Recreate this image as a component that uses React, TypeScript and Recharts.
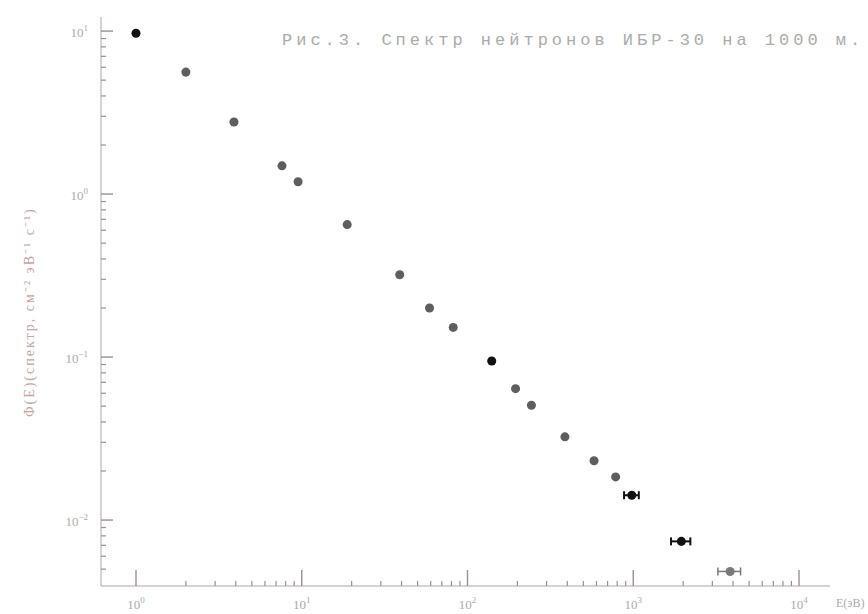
import { ScatterChart, Scatter, XAxis, YAxis, ErrorBar } from "recharts";

const titleText = "Рис.3. Спектр нейтронов ИБР-30 на 1000 м.";
const xAxisTitle = "E(эВ)";
const yAxisTitle = "Φ(E)(спектр, см⁻² эВ⁻¹ с⁻¹)";

// grey points (main measurement)
const greyEnergy = [2, 3.9, 7.6, 9.5, 18.8, 39, 59, 82, 195, 243, 387, 580, 783];
const greyFlux = [5.6, 2.77, 1.49, 1.19, 0.65, 0.32, 0.2, 0.152, 0.064, 0.0506, 0.0324, 0.0231, 0.0184];

// black points
const blackEnergy = [1, 140, 980, 1950];
const blackFlux = [9.7, 0.0946, 0.0142, 0.0074];
const blackErr = [0, 0, 100, 260];

// last faint point
const faintEnergy = [3840];
const faintFlux = [0.00484];
const faintErr = [600];

const xDecades = [1, 10, 100, 1000, 10000];
const yDecades = [0.01, 0.1, 1, 10];
const minorSteps = [2, 3, 4, 5, 6, 7, 8, 9];

const xTicks = [
  ...xDecades,
  ...xDecades.slice(0, 4).flatMap((d) => minorSteps.map((m) => m * d)),
];
const yTicks = [
  ...yDecades,
  ...[0.001, 0.01, 0.1, 1].flatMap((d) => minorSteps.map((m) => m * d)).filter((v) => v > 0.004),
];

const greyData = greyEnergy.map((e, i) => ({ e, f: greyFlux[i] }));
const blackData = blackEnergy.map((e, i) => ({ e, f: blackFlux[i], ex: blackErr[i] }));
const faintData = faintEnergy.map((e, i) => ({ e, f: faintFlux[i], ex: faintErr[i] }));

const axisColor = "#b3a3a3";
const tickColor = "#9e8e8e";
const labelColor = "#ababab";

const isDecade = (v: number) => Math.abs(Math.log10(v) - Math.round(Math.log10(v))) < 1e-6;
const expText = (v: number) => {
  const n = Math.round(Math.log10(v));
  return n < 0 ? "−" + Math.abs(n) : String(n);
};

function XTick(props: any) {
  const { x, y, payload } = props;
  const v = payload.value;
  const major = isDecade(v);
  return (
    <g>
      <line x1={x} x2={x} y1={y} y2={y - (major ? 16 : 5)} stroke={tickColor} strokeWidth={major ? 1.4 : 1.2} />
      {major && (
        <text x={x} y={y + 23} textAnchor="middle" fill={labelColor} fontSize={13} fontFamily="Liberation Serif">
          10
          <tspan dy={-6} fontSize={9}>
            {expText(v)}
          </tspan>
        </text>
      )}
    </g>
  );
}

function YTick(props: any) {
  const { x, y, payload } = props;
  const v = payload.value;
  const major = isDecade(v);
  return (
    <g>
      <line x1={x} x2={x + (major ? 12 : 5)} y1={y} y2={y} stroke={tickColor} strokeWidth={major ? 1.4 : 1.2} />
      {major && (
        <text x={x - 13} y={y + 6} textAnchor="end" fill={labelColor} fontSize={13} fontFamily="Liberation Serif">
          10
          <tspan dy={-6} fontSize={9}>
            {expText(v)}
          </tspan>
        </text>
      )}
    </g>
  );
}

export default function App() {
  return (
    <div style={{ position: "absolute", left: 0, top: 0, width: 868, height: 614, background: "#fff" }}>
      <ScatterChart width={868} height={614} margin={{ top: 17, right: 38, left: 0, bottom: 0 }}>
        <XAxis
          type="number"
          dataKey="e"
          scale="log"
          domain={[0.615, 15380]}
          allowDataOverflow
          ticks={xTicks}
          interval={0}
          tickSize={0}
          tickMargin={0}
          tickLine={false}
          tick={<XTick />}
          axisLine={{ stroke: axisColor }}
          height={28}
        />
        <YAxis
          type="number"
          dataKey="f"
          scale="log"
          domain={[0.00394, 12.2]}
          allowDataOverflow
          ticks={yTicks}
          interval={0}
          tickSize={0}
          tickMargin={0}
          tickLine={false}
          tick={<YTick />}
          axisLine={{ stroke: axisColor }}
          width={101}
        />
        <Scatter data={greyData} fill="#5e5e5e" isAnimationActive={false} />
        <Scatter data={blackData} fill="#111111" isAnimationActive={false}>
          <ErrorBar dataKey="ex" direction="x" width={4} stroke="#111111" strokeWidth={2} />
        </Scatter>
        <Scatter data={faintData} fill="#7a7a7a" isAnimationActive={false}>
          <ErrorBar dataKey="ex" direction="x" width={4} stroke="#7a7a7a" strokeWidth={1.5} />
        </Scatter>
      </ScatterChart>
      <div
        style={{
          position: "absolute",
          left: 282,
          top: 31,
          fontFamily: "Liberation Mono",
          fontSize: 17,
          letterSpacing: 4,
          color: "#ababab",
          whiteSpace: "nowrap",
        }}
      >
        {titleText}
      </div>
      <div
        style={{
          position: "absolute",
          left: 836,
          top: 596,
          fontFamily: "Liberation Serif",
          fontSize: 12,
          color: labelColor,
          whiteSpace: "nowrap",
        }}
      >
        {xAxisTitle}
      </div>
      <div
        style={{
          position: "absolute",
          left: 28,
          top: 312,
          transform: "translate(-50%, -50%) rotate(-90deg)",
          fontFamily: "Liberation Serif",
          fontSize: 14,
          letterSpacing: 2,
          color: "#c4a4a4",
          whiteSpace: "nowrap",
        }}
      >
        {yAxisTitle}
      </div>
    </div>
  );
}
